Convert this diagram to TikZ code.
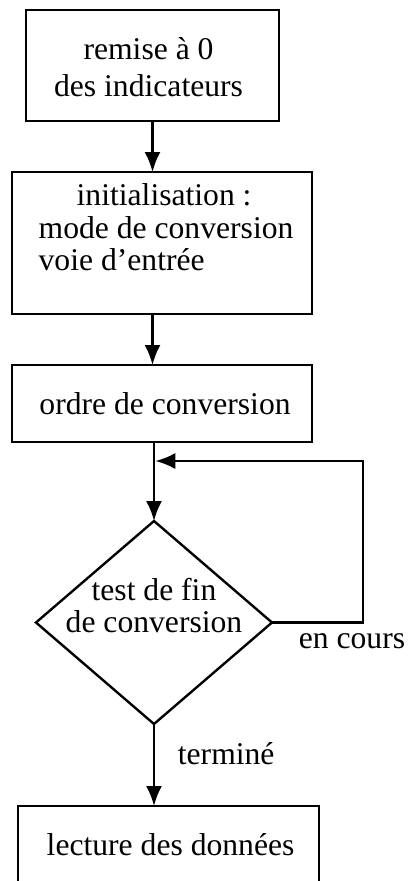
\documentclass[tikz,border=0pt]{standalone}
\usepackage{fontspec}
\setmainfont{Liberation Serif}
\usepackage{tikz}
\usetikzlibrary{positioning,shapes.geometric,arrows.meta}

\begin{document}
\begin{tikzpicture}[node distance=1.3cm, >={Latex[length=5mm,width=4mm]}, line width=1.7pt,
    every node/.style={font=\fontsize{22.5}{26}\selectfont},
    stepbox/.style={draw, rectangle, inner sep=0pt, outer sep=0pt, align=center},
    testbox/.style={draw, diamond, inner sep=0pt, outer sep=0pt, minimum width=5.9cm, minimum height=5.075cm}]
            \clip (0,0) rectangle (10.175,-22.025);

            % Step 1: remise a 0
            \node[stepbox, minimum width=6.325cm, minimum height=2.775cm] (reset) at (3.8125,-1.6375) {
            \begin{tabular}{@{}c@{}}
            \rule{0pt}{0.9cm}remise à 0\\
            des indicateurs
            \end{tabular}
            };

            % Step 2: initialisation
            \node[stepbox, minimum width=7.5cm, minimum height=3.55cm, below=1.275cm of reset, xshift=0.2375cm] (init) {
            \begin{tabular}{@{}l@{}}
            \hspace*{1.35cm}initialisation :\\[-3pt]
            \hspace*{0.4cm}mode de conversion\\[-3pt]
            \hspace*{0.4cm}voie d'entrée\\[0.6cm]
            \end{tabular}
            };

            % Step 3: ordre de conversion
            \node[stepbox, minimum width=7.5cm, minimum height=1.925cm, below=1.275cm of init] (order) {
            \hspace*{0.35cm}ordre de conversion
            };

            % Test de fin de conversion
            \node[testbox, below=1.975cm of order, xshift=-0.2cm] (test) {};
            \node[align=center] (testtxt) at ([yshift=0.425cm]test.center) {
            test de fin\\[-3.5pt]
            de conversion
            };

            % Step 4: lecture
            \node[stepbox, minimum width=7.525cm, minimum height=1.95cm, below=2.05cm of test, xshift=0.3625cm] (read) {
            \hspace*{0.3cm}lecture des données
            };

            % Arrows between steps
            \draw[->] (reset.south) -- (reset.south |- init.north);
            \draw[->] (reset.south |- init.south) -- (reset.south |- order.north);
            \draw[->] (test.north |- order.south) -- (test.north);
            \draw[->] (test.south) -- (test.south |- read.north);

            % Loop back while converting
            \coordinate (join) at ([yshift=1.5cm]test.north);
            \draw[->, shorten >=0.9pt] (test.east) -- ++(2.275,0) |- (join);

            % Labels
            \node (encours) at ([xshift=2.0cm, yshift=-0.46cm]test.east) {en cours};
            \node[anchor=west] (termine) at ([xshift=0.45cm, yshift=-0.75cm]test.south) {terminé};
        \end{tikzpicture}
\end{document}
